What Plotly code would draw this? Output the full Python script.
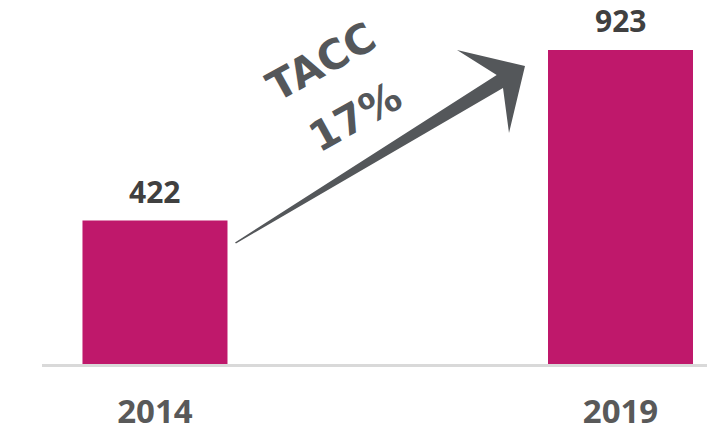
import plotly.graph_objects as go

years = ["2014", "2019"]
values = [422, 923]
cagr_title = "TACC"
cagr_value = "17%"

# page body has an 8px margin: figure is sized to fill the visible window
OFF = 8
W, H = 715 - OFF, 425 - OFF
ML, MR, MT, MB = 34, 0, 12, 61
PW, PH = W - ML - MR, H - MT - MB

BAR_COLOR = "#BF186B"
TEXT_DARK = "#404040"
GRAY = "#54575A"

fig = go.Figure()
fig.add_trace(go.Bar(
    x=[0, 1], y=values, width=0.3115,
    marker=dict(color=BAR_COLOR, line=dict(width=0)),
    hoverinfo="skip",
))

for i, v in enumerate(values):
    fig.add_annotation(x=i, y=v, xref="x", yref="y", text=f"<b>{v}</b>",
                       showarrow=False, yanchor="middle", yshift=29,
                       font=dict(family="Open Sans", size=30, color=TEXT_DARK))


def px2paper(px, py):
    """reference-window pixels -> paper coords"""
    fx, fy = px - OFF, py - OFF
    return (fx - ML) / PW, (H - MB - fy) / PH


arrow_px = [(235, 242.5), (496.7, 75), (457, 50), (525, 66),
            (509, 133), (503, 88), (236, 243.5)]
pts = [px2paper(*p) for p in arrow_px]
path = "M " + " L ".join(f"{x:.5f},{y:.5f}" for x, y in pts) + " Z"
fig.add_shape(type="path", path=path, xref="paper", yref="paper",
              fillcolor=GRAY, line=dict(width=0), layer="above")

for txt, (cx, cy) in [(cagr_title, (321.5, 62)), (cagr_value, (355, 116.5))]:
    tx, ty = px2paper(cx, cy)
    fig.add_annotation(x=tx, y=ty, xref="paper", yref="paper", text=f"<b>{txt}</b>",
                       showarrow=False, textangle=-29, xanchor="center", yanchor="middle",
                       font=dict(family="DejaVu Sans", size=41, color=GRAY))

fig.update_layout(
    width=W, height=H,
    margin=dict(l=ML, r=MR, t=MT, b=MB, autoexpand=False),
    paper_bgcolor="white", plot_bgcolor="white",
    showlegend=False,
    xaxis=dict(range=[-0.2427, 1.203], tickmode="array", tickvals=[0, 1],
               ticktext=[f"<b>{y}</b>" for y in years],
               showline=True, linecolor="#D9D9D9", linewidth=3,
               showgrid=False, zeroline=False, ticks="",
               automargin=False, ticklabelstandoff=16,
               tickfont=dict(family="Open Sans", size=33, color="#595959")),
    yaxis=dict(range=[0, 1011], visible=False, showgrid=False, zeroline=False,
               automargin=False),
)

fig.write_html("out.html")
